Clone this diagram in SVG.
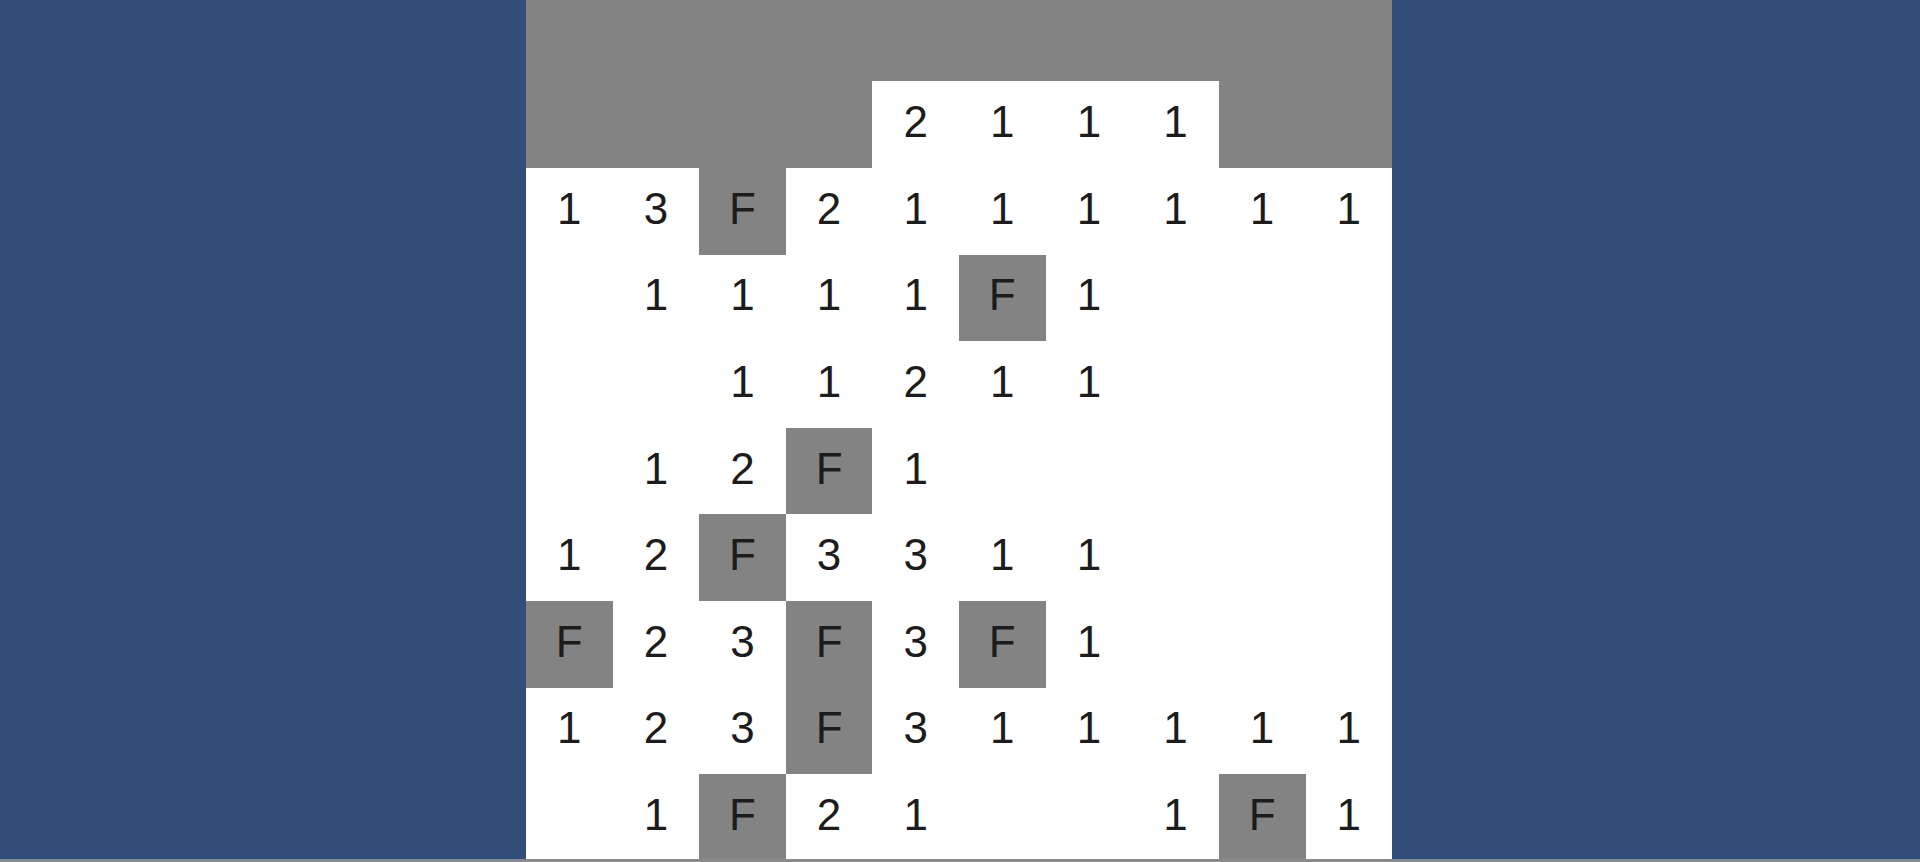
<svg xmlns="http://www.w3.org/2000/svg" width="1920" height="862" viewBox="0 0 1920 862">
<style>
.bg{fill:#314e79}
.w{fill:#ffffff}
.g{fill:#838383;shape-rendering:crispEdges}
.t{font-family:"Liberation Sans",Arial,sans-serif;font-size:44px;fill:#1c1c1c;text-anchor:middle}
</style>
<rect class="bg" x="0" y="0" width="1920" height="862"/>
<g id="board">
<rect class="w" x="526" y="0" width="866" height="862"/>
<polygon class="g" points="526,0 1392,0 1392,168 1219,168 1219,81 872,81 872,168 526,168"/>
</g>
<g id="row-m1">
<text class="t" x="915.7" y="137.1">2</text>
<text class="t" x="1002.3" y="137.1">1</text>
<text class="t" x="1088.9" y="137.1">1</text>
<text class="t" x="1175.5" y="137.1">1</text>
</g>
<g id="row-0">
<text class="t" x="569.3" y="223.7">1</text>
<text class="t" x="655.9" y="223.7">3</text>
<g id="flag-0-2"><rect class="g" x="699" y="168" width="87" height="87"/><text class="t" x="742.5" y="223.7">F</text></g>
<text class="t" x="829.1" y="223.7">2</text>
<text class="t" x="915.7" y="223.7">1</text>
<text class="t" x="1002.3" y="223.7">1</text>
<text class="t" x="1088.9" y="223.7">1</text>
<text class="t" x="1175.5" y="223.7">1</text>
<text class="t" x="1262.1" y="223.7">1</text>
<text class="t" x="1348.7" y="223.7">1</text>
</g>
<g id="row-1">
<text class="t" x="655.9" y="310.3">1</text>
<text class="t" x="742.5" y="310.3">1</text>
<text class="t" x="829.1" y="310.3">1</text>
<text class="t" x="915.7" y="310.3">1</text>
<g id="flag-1-5"><rect class="g" x="959" y="255" width="87" height="86"/><text class="t" x="1002.3" y="310.3">F</text></g>
<text class="t" x="1088.9" y="310.3">1</text>
</g>
<g id="row-2">
<text class="t" x="742.5" y="396.9">1</text>
<text class="t" x="829.1" y="396.9">1</text>
<text class="t" x="915.7" y="396.9">2</text>
<text class="t" x="1002.3" y="396.9">1</text>
<text class="t" x="1088.9" y="396.9">1</text>
</g>
<g id="row-3">
<text class="t" x="655.9" y="483.5">1</text>
<text class="t" x="742.5" y="483.5">2</text>
<g id="flag-3-3"><rect class="g" x="786" y="428" width="86" height="86"/><text class="t" x="829.1" y="483.5">F</text></g>
<text class="t" x="915.7" y="483.5">1</text>
</g>
<g id="row-4">
<text class="t" x="569.3" y="570.1">1</text>
<text class="t" x="655.9" y="570.1">2</text>
<g id="flag-4-2"><rect class="g" x="699" y="514" width="87" height="87"/><text class="t" x="742.5" y="570.1">F</text></g>
<text class="t" x="829.1" y="570.1">3</text>
<text class="t" x="915.7" y="570.1">3</text>
<text class="t" x="1002.3" y="570.1">1</text>
<text class="t" x="1088.9" y="570.1">1</text>
</g>
<g id="row-5">
<g id="flag-5-0"><rect class="g" x="526" y="601" width="87" height="87"/><text class="t" x="569.3" y="656.7">F</text></g>
<text class="t" x="655.9" y="656.7">2</text>
<text class="t" x="742.5" y="656.7">3</text>
<g id="flag-5-3"><rect class="g" x="786" y="601" width="86" height="87"/><text class="t" x="829.1" y="656.7">F</text></g>
<text class="t" x="915.7" y="656.7">3</text>
<g id="flag-5-5"><rect class="g" x="959" y="601" width="87" height="87"/><text class="t" x="1002.3" y="656.7">F</text></g>
<text class="t" x="1088.9" y="656.7">1</text>
</g>
<g id="row-6">
<text class="t" x="569.3" y="743.3">1</text>
<text class="t" x="655.9" y="743.3">2</text>
<text class="t" x="742.5" y="743.3">3</text>
<g id="flag-6-3"><rect class="g" x="786" y="688" width="86" height="86"/><text class="t" x="829.1" y="743.3">F</text></g>
<text class="t" x="915.7" y="743.3">3</text>
<text class="t" x="1002.3" y="743.3">1</text>
<text class="t" x="1088.9" y="743.3">1</text>
<text class="t" x="1175.5" y="743.3">1</text>
<text class="t" x="1262.1" y="743.3">1</text>
<text class="t" x="1348.7" y="743.3">1</text>
</g>
<g id="row-7">
<text class="t" x="655.9" y="829.9">1</text>
<g id="flag-7-2"><rect class="g" x="699" y="774" width="87" height="87"/><text class="t" x="742.5" y="829.9">F</text></g>
<text class="t" x="829.1" y="829.9">2</text>
<text class="t" x="915.7" y="829.9">1</text>
<text class="t" x="1175.5" y="829.9">1</text>
<g id="flag-7-8"><rect class="g" x="1219" y="774" width="87" height="87"/><text class="t" x="1262.1" y="829.9">F</text></g>
<text class="t" x="1348.7" y="829.9">1</text>
</g>
<g id="connectors"/>
<rect x="0" y="859" width="1920" height="3" fill="#8a8a8a"/>
</svg>
